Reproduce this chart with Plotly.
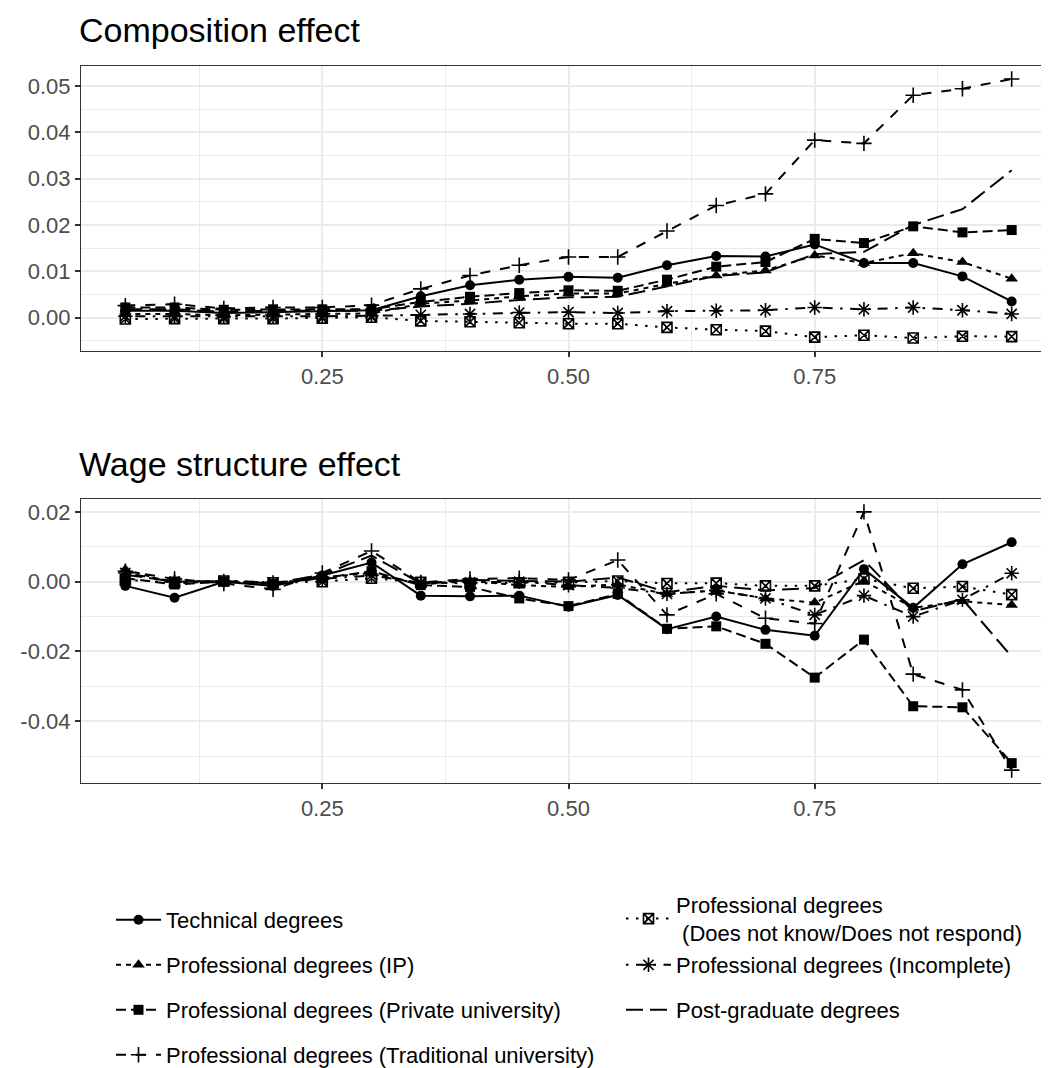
import plotly.graph_objects as go

quantiles = [0.05, 0.10, 0.15, 0.20, 0.25, 0.30, 0.35, 0.40, 0.45, 0.50,
             0.55, 0.60, 0.65, 0.70, 0.75, 0.80, 0.85, 0.90, 0.95]

series_names = [
    "Technical degrees",
    "Professional degrees (IP)",
    "Professional degrees (Private university)",
    "Professional degrees (Traditional university)",
    "Professional degrees<br> (Does not know/Does not respond)",
    "Professional degrees (Incomplete)",
    "Post-graduate degrees",
]

# Composition effect
comp_technical = [0.0015, 0.0015, 0.0010, 0.0012, 0.0013, 0.0016, 0.0046, 0.0070, 0.0082, 0.0088,
                  0.0086, 0.0113, 0.0133, 0.0132, 0.0158, 0.0118, 0.0118, 0.0089, 0.0035]
comp_ip = [0.0008, 0.0008, 0.0005, 0.0007, 0.0008, 0.0009, 0.0030, 0.0037, 0.0046, 0.0052,
           0.0052, 0.0073, 0.0091, 0.0102, 0.0134, 0.0118, 0.0139, 0.0120, 0.0084]
comp_private = [0.0022, 0.0022, 0.0017, 0.0018, 0.0018, 0.0018, 0.0034, 0.0045, 0.0053, 0.0059,
                0.0058, 0.0082, 0.0110, 0.0120, 0.0170, 0.0161, 0.0197, 0.0184, 0.0189]
comp_traditional = [0.0026, 0.0029, 0.0020, 0.0022, 0.0022, 0.0027, 0.0062, 0.0091, 0.0113, 0.0131,
                    0.0131, 0.0187, 0.0242, 0.0267, 0.0383, 0.0376, 0.0480, 0.0494, 0.0515]
comp_dnk = [-0.0003, -0.0002, -0.0002, -0.0002, -0.0001, 0.0001, -0.0007, -0.0009, -0.0011, -0.0013,
            -0.0013, -0.0021, -0.0026, -0.0029, -0.0042, -0.0038, -0.0044, -0.0040, -0.0041]
comp_incomplete = [0.0003, 0.0003, 0.0002, 0.0003, 0.0003, 0.0004, 0.0006, 0.0008, 0.0011, 0.0012,
                   0.0010, 0.0014, 0.0015, 0.0016, 0.0022, 0.0018, 0.0022, 0.0016, 0.0008]
comp_postgrad = [0.0018, 0.0018, 0.0013, 0.0015, 0.0015, 0.0015, 0.0024, 0.0030, 0.0038, 0.0044,
                 0.0045, 0.0068, 0.0090, 0.0098, 0.0137, 0.0142, 0.0200, 0.0234, 0.0318]

# Wage structure effect
wage_technical = [-0.0012, -0.0046, 0.0000, -0.0012, 0.0018, 0.0055, -0.0040, -0.0042, -0.0040, -0.0072,
                  -0.0038, -0.0136, -0.0100, -0.0138, -0.0155, 0.0036, -0.0075, 0.0050, 0.0113]
wage_ip = [0.0035, -0.0005, 0.0002, -0.0005, 0.0012, 0.0025, -0.0008, 0.0002, -0.0010, -0.0015,
           -0.0008, -0.0035, -0.0025, -0.0048, -0.0060, 0.0002, -0.0075, -0.0056, -0.0067]
wage_private = [0.0010, -0.0008, 0.0000, -0.0006, 0.0010, 0.0030, -0.0010, -0.0015, -0.0048, -0.0070,
                -0.0035, -0.0135, -0.0128, -0.0178, -0.0275, -0.0166, -0.0357, -0.0360, -0.0520]
wage_traditional = [0.0030, 0.0008, -0.0005, -0.0022, 0.0025, 0.0088, -0.0002, 0.0008, 0.0010, 0.0005,
                    0.0062, -0.0095, -0.0035, -0.0105, -0.0120, 0.0200, -0.0265, -0.0310, -0.0540]
wage_dnk = [0.0005, -0.0002, 0.0002, -0.0003, 0.0000, 0.0010, -0.0002, -0.0005, -0.0003, -0.0002,
            0.0002, -0.0005, -0.0004, -0.0012, -0.0012, 0.0008, -0.0019, -0.0014, -0.0037]
wage_incomplete = [0.0025, 0.0000, 0.0002, -0.0002, 0.0008, 0.0018, -0.0003, -0.0002, 0.0000, -0.0010,
                   -0.0018, -0.0035, -0.0025, -0.0048, -0.0095, -0.0040, -0.0100, -0.0052, 0.0024]
wage_postgrad = [0.0020, 0.0000, 0.0002, -0.0005, 0.0020, 0.0075, -0.0005, 0.0005, 0.0002, 0.0000,
                 0.0012, -0.0030, -0.0012, -0.0025, -0.0018, 0.0062, -0.0085, -0.0050, -0.0215]

comp_series = [comp_technical, comp_ip, comp_private, comp_traditional, comp_dnk, comp_incomplete, comp_postgrad]
wage_series = [wage_technical, wage_ip, wage_private, wage_traditional, wage_dnk, wage_incomplete, wage_postgrad]

x_tick_vals = [0.25, 0.50, 0.75]
x_tick_text = ["0.25", "0.50", "0.75"]
comp_tick_vals = [0.00, 0.01, 0.02, 0.03, 0.04, 0.05]
comp_tick_text = ["0.00", "0.01", "0.02", "0.03", "0.04", "0.05"]
wage_tick_vals = [-0.04, -0.02, 0.00, 0.02]
wage_tick_text = ["-0.04", "-0.02", "0.00", "0.02"]

# styling (ggplot default linetype / shape palettes)
dashes = ["solid", "5px,5px", "10px,5px", "10px,10px", "2.5px,7.5px", "2.5px,7.5px,10px,7.5px", "17px,7px"]
symbols = ["circle", "triangle-up", "square", "cross-thin-open", "square-x-open", "asterisk-open", None]
msizes = [10, 11, 10, 11, 10, 12, 0]

W, H = 1049, 1068
ML, MR = 73, 1
FONT = "Liberation Sans, Arial, Helvetica, sans-serif"


def ydom(top_px, bot_px):
    return [1 - bot_px / H, 1 - top_px / H]


def expand(vals_list):
    lo = min(min(v) for v in vals_list)
    hi = max(max(v) for v in vals_list)
    r = hi - lo
    return [lo - 0.05 * r, hi + 0.05 * r]


fig = go.Figure()

for panel, data in ((1, comp_series), (2, wage_series)):
    for i, (name, vals) in enumerate(zip(series_names, data)):
        has_marker = symbols[i] is not None
        filled = symbols[i] in ("circle", "triangle-up", "square")
        marker = dict(symbol=symbols[i], size=msizes[i], color="black",
                      line=dict(color="black", width=0 if filled else 1.6)) if has_marker else None
        leg = "legend" if i == 0 else f"legend{i + 1}"
        fig.add_trace(go.Scatter(
            x=quantiles, y=vals, name=name,
            mode="lines+markers" if has_marker else "lines",
            line=dict(color="black", width=2, dash=dashes[i]),
            marker=marker,
            xaxis="x" if panel == 1 else "x2",
            yaxis="y" if panel == 1 else "y2",
            showlegend=(panel == 2),
            legend=leg,
            legendgroup=name,
        ))

grid = "#EBEBEB"
common_x = dict(
    range=[0.005, 0.995], tickmode="array", tickvals=x_tick_vals, ticktext=x_tick_text,
    showgrid=True, gridcolor=grid, gridwidth=1.7,
    minor=dict(tickmode="array", tickvals=[0.125, 0.375, 0.625, 0.875], showgrid=True,
               gridcolor=grid, gridwidth=0.9),
    showline=True, mirror=True, linecolor="#333333", linewidth=1.2,
    ticks="outside", ticklen=5, tickwidth=1.5, tickcolor="#333333",
    tickfont=dict(size=22, color="#4D4D4D", family=FONT), zeroline=False,
)
common_y = dict(
    showgrid=True, gridcolor=grid, gridwidth=1.7,
    showline=True, mirror=True, linecolor="#333333", linewidth=1.2,
    ticks="outside", ticklen=5, tickwidth=1.5, tickcolor="#333333",
    tickfont=dict(size=22, color="#4D4D4D", family=FONT), zeroline=False,
)

top_dom = ydom(58, 343)
bot_dom = ydom(491, 775)

legends = {}
leg_pos = [(103, 912), (103, 957), (103, 1002), (103, 1047), (613, 911), (613, 957), (613, 1002)]
for i, (px, py) in enumerate(leg_pos):
    key = "legend" if i == 0 else f"legend{i + 1}"
    legends[key] = dict(
        x=(px - ML) / (W - ML - MR), y=1 - py / H, xanchor="left", yanchor="middle",
        font=dict(size=22, color="black", family=FONT), bgcolor="rgba(0,0,0,0)",
        itemwidth=45, borderwidth=0,
    )

fig.update_layout(
    width=W, height=H,
    margin=dict(l=ML, r=MR, t=0, b=0),
    paper_bgcolor="white", plot_bgcolor="white",
    font=dict(family=FONT, color="black"),
    xaxis=dict(domain=[0, 1], anchor="y", **common_x),
    xaxis2=dict(domain=[0, 1], anchor="y2", **common_x),
    yaxis=dict(domain=top_dom, anchor="x", range=expand(comp_series), tickmode="array",
               tickvals=comp_tick_vals, ticktext=comp_tick_text,
               minor=dict(tickmode="array", tickvals=[-0.005, 0.005, 0.015, 0.025, 0.035, 0.045],
                          showgrid=True, gridcolor=grid, gridwidth=0.9),
               **common_y),
    yaxis2=dict(domain=bot_dom, anchor="x2", range=expand(wage_series), tickmode="array",
                tickvals=wage_tick_vals, ticktext=wage_tick_text,
                minor=dict(tickmode="array", tickvals=[-0.05, -0.03, -0.01, 0.01],
                           showgrid=True, gridcolor=grid, gridwidth=0.9),
                **common_y),
    annotations=[
        dict(text="Composition effect", xref="paper", yref="paper", x=-4 / 975, y=1 - 22 / H,
             xanchor="left", yanchor="middle", showarrow=False,
             font=dict(size=34, color="black", family=FONT)),
        dict(text="Wage structure effect", xref="paper", yref="paper", x=-4 / 975, y=1 - 456 / H,
             xanchor="left", yanchor="middle", showarrow=False,
             font=dict(size=34, color="black", family=FONT)),
    ],
    **legends,
)

fig.write_html("out.html")
